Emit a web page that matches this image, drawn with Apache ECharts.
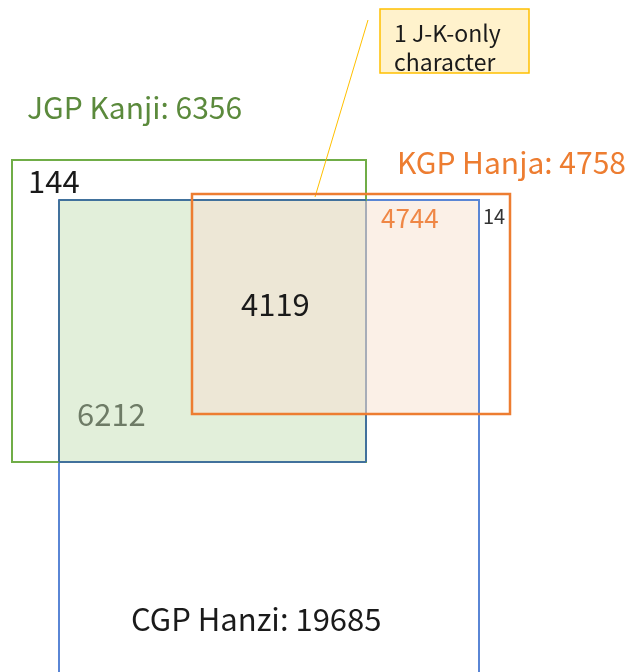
<!DOCTYPE html>
<html><head><meta charset="utf-8">
<script src="https://cdn.jsdelivr.net/npm/echarts@6/dist/echarts.min.js"></script>
<style>html,body{margin:0;padding:0;background:#fff}#c{width:631px;height:672px}</style>
</head><body><div id="c"></div>
<script>
// ---- data ----
const setNames = ['JGP Kanji', 'KGP Hanja', 'CGP Hanzi'];
const setTotals = [6356, 4758, 19685];
const regionNames = ['J only', 'K∩C only', 'K only', 'J∩K∩C', 'J∩C only'];
const regionCounts = [144, 4744, 14, 4119, 6212];
const calloutLines = ['1 J-K-only', 'character'];

// ---- layout (diagram units, y downward) ----
const FONT = '"Noto Sans CJK SC", "Noto Sans", sans-serif';
const boxJ = [12, 160, 366, 462];
const boxK = [192, 194, 510, 414];
const boxC = [59, 200, 479, 700];
const fills = [
  { box: [59, 200, 366, 462], color: '#e2efda' },
  { box: [192, 200, 366, 414], color: '#ede7d6' },
  { box: [366, 200, 479, 414], color: '#fbf0e7' }
];
const outlines = [
  { box: boxC, color: '#5a86d5', w: 2 },
  { box: boxJ, color: '#70ad47', w: 2 }
];
const segs = [
  { p: [[59, 200], [366, 200]], color: '#41719c', w: 2 },
  { p: [[59, 200], [59, 462]], color: '#41719c', w: 2 },
  { p: [[59, 462], [366, 462]], color: '#41719c', w: 2 },
  { p: [[366, 414], [366, 462]], color: '#41719c', w: 2 },
  { p: [[366, 201], [366, 414]], color: '#a7adb8', w: 2 },
  { p: [[368, 20], [315, 197]], color: '#ffc000', w: 1 }
];
const outlinesTop = [
  { box: boxK, color: '#ed7d31', w: 2.5 }
];
const calloutBox = { box: [380, 9, 529, 73], fill: '#fff2cc', color: '#ffc000', w: 1.5 };

const labels = [
  { text: setNames[0] + ': ' + setTotals[0], pos: [27, 108], color: '#5b8a3c', size: 30 },
  { text: setNames[1] + ': ' + setTotals[1], pos: [397, 163], color: '#ed7d31', size: 30 },
  { text: setNames[2] + ': ' + setTotals[2], pos: [131, 619], color: '#1a1a1a', size: 31 },
  { text: String(regionCounts[0]), pos: [28, 181], color: '#1a1a1a', size: 31 },
  { text: String(regionCounts[1]), pos: [381, 218], color: '#ef8746', size: 26 },
  { text: String(regionCounts[2]), pos: [483, 216], color: '#333333', size: 20 },
  { text: String(regionCounts[3]), pos: [241, 304], color: '#1a1a1a', size: 31 },
  { text: String(regionCounts[4]), pos: [77, 414], color: '#6e7b66', size: 31 },
  { text: calloutLines[0], pos: [394, 33], color: '#1a1a1a', size: 23 },
  { text: calloutLines[1], pos: [394, 62], color: '#1a1a1a', size: 23 }
];

function rectShape(api, b) {
  const p0 = api.coord([b[0], b[1]]);
  const p1 = api.coord([b[2], b[3]]);
  return { x: p0[0], y: p0[1], width: p1[0] - p0[0], height: p1[1] - p0[1] };
}

const chart = echarts.init(document.getElementById('c'), null, { renderer: 'canvas' });
chart.setOption({
  animation: false,
  backgroundColor: '#ffffff',
  grid: { left: 0, right: 0, top: 0, bottom: 0 },
  xAxis: { type: 'value', min: 0, max: 631, show: false },
  yAxis: { type: 'value', min: 0, max: 672, inverse: true, show: false },
  series: [
    {
      type: 'custom', clip: false, z: 1,
      data: fills.map((f, i) => [i]),
      renderItem: (params, api) => {
        const f = fills[params.dataIndex];
        return { type: 'rect', shape: rectShape(api, f.box), style: { fill: f.color, stroke: null } };
      }
    },
    {
      type: 'custom', clip: false, z: 2,
      data: outlines.map((f, i) => [i]),
      renderItem: (params, api) => {
        const o = outlines[params.dataIndex];
        return { type: 'rect', shape: rectShape(api, o.box), style: { fill: 'none', stroke: o.color, lineWidth: o.w } };
      }
    },
    {
      type: 'custom', clip: false, z: 3,
      data: segs.map((f, i) => [i]),
      renderItem: (params, api) => {
        const s = segs[params.dataIndex];
        const a = api.coord(s.p[0]), b = api.coord(s.p[1]);
        return { type: 'line', shape: { x1: a[0], y1: a[1], x2: b[0], y2: b[1] }, style: { stroke: s.color, lineWidth: s.w } };
      }
    },
    {
      type: 'custom', clip: false, z: 4,
      data: outlinesTop.map((f, i) => [i]),
      renderItem: (params, api) => {
        const o = outlinesTop[params.dataIndex];
        return { type: 'rect', shape: rectShape(api, o.box), style: { fill: 'none', stroke: o.color, lineWidth: o.w } };
      }
    },
    {
      type: 'custom', clip: false, z: 5,
      data: [[0]],
      renderItem: (params, api) => {
        return { type: 'rect', shape: rectShape(api, calloutBox.box), style: { fill: calloutBox.fill, stroke: calloutBox.color, lineWidth: calloutBox.w } };
      }
    },
    {
      type: 'custom', clip: false, z: 6,
      data: labels.map((l, i) => [i]),
      renderItem: (params, api) => {
        const l = labels[params.dataIndex];
        const p = api.coord(l.pos);
        return {
          type: 'text',
          style: {
            x: p[0], y: p[1], text: l.text, fill: l.color,
            font: l.size + 'px ' + FONT,
            textAlign: 'left', textVerticalAlign: 'middle'
          }
        };
      }
    }
  ]
});
</script>
</body></html>
